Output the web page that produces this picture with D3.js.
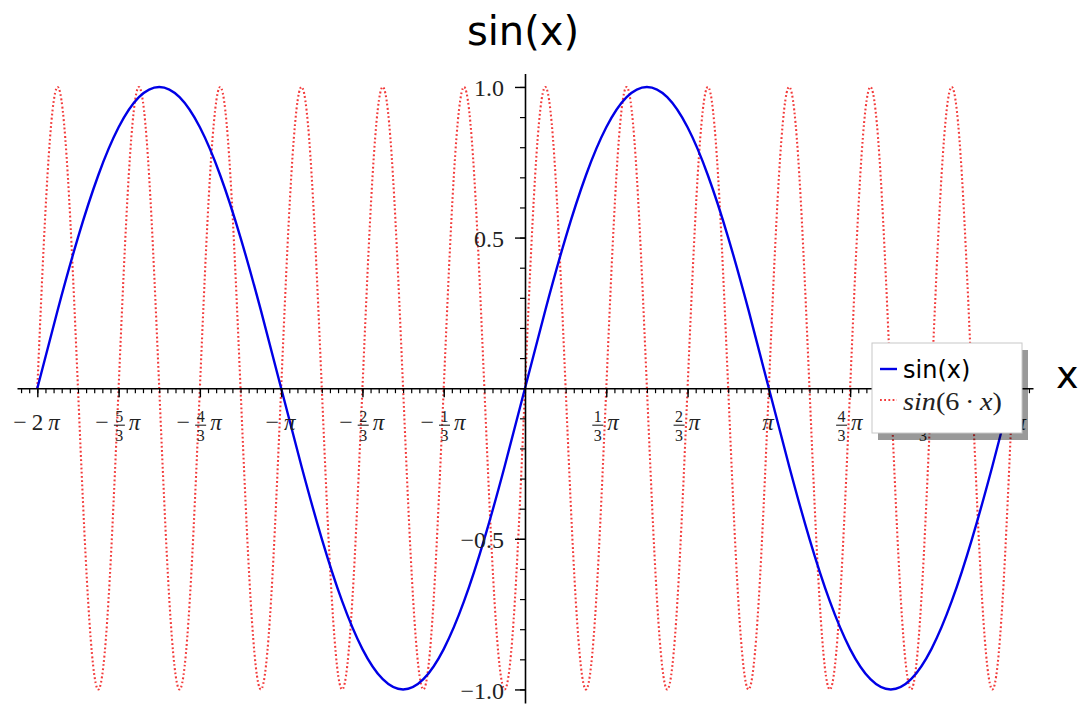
<!DOCTYPE html>
<html>
<head>
<meta charset="utf-8">
<title>sin(x)</title>
<script src="https://cdn.jsdelivr.net/npm/d3@7"></script>
<style>
	body { margin: 0; background: #fff; }
	svg { display: block; }
	.serif { font-family: "Liberation Serif", "DejaVu Serif", serif; }
	.sans { font-family: "DejaVu Sans", sans-serif; }
	.tick line { stroke: #000; }
</style>
</head>
<body>
<svg width="1083" height="704"></svg>
<script>
	// samples, x goes from -2π to 2π in equal steps
	var xStart = -2 * Math.PI;
	var sinStep = Math.PI / 12;
	var sinValues = [
		0, 0.259, 0.5, 0.707, 0.866, 0.966, 1, 0.966, 0.866, 0.707, 0.5, 0.259,
		0, -0.259, -0.5, -0.707, -0.866, -0.966, -1, -0.966, -0.866, -0.707, -0.5, -0.259,
		0, 0.259, 0.5, 0.707, 0.866, 0.966, 1, 0.966, 0.866, 0.707, 0.5, 0.259,
		0, -0.259, -0.5, -0.707, -0.866, -0.966, -1, -0.966, -0.866, -0.707, -0.5, -0.259,
		0
	];
	var sin6Step = Math.PI / 24;
	var sin6Values = [
		0, 0.707, 1, 0.707, 0, -0.707, -1, -0.707,
		0, 0.707, 1, 0.707, 0, -0.707, -1, -0.707,
		0, 0.707, 1, 0.707, 0, -0.707, -1, -0.707,
		0, 0.707, 1, 0.707, 0, -0.707, -1, -0.707,
		0, 0.707, 1, 0.707, 0, -0.707, -1, -0.707,
		0, 0.707, 1, 0.707, 0, -0.707, -1, -0.707,
		0, 0.707, 1, 0.707, 0, -0.707, -1, -0.707,
		0, 0.707, 1, 0.707, 0, -0.707, -1, -0.707,
		0, 0.707, 1, 0.707, 0, -0.707, -1, -0.707,
		0, 0.707, 1, 0.707, 0, -0.707, -1, -0.707,
		0, 0.707, 1, 0.707, 0, -0.707, -1, -0.707,
		0, 0.707, 1, 0.707, 0, -0.707, -1, -0.707,
		0
	];

	// x ticks in units of π/3
	var xMajorTicks = [-6, -5, -4, -3, -2, -1, 1, 2, 3, 4, 5, 6];
	var xTickLabels = ["-2π", "-5/3π", "-4/3π", "-π", "-2/3π", "-1/3π", "1/3π", "2/3π", "π", "4/3π", "5/3π", "2π"];
	var yMajorTicks = [-1, -0.5, 0.5, 1];
	var yTickLabels = ["−1.0", "−0.5", "0.5", "1.0"];
	var legendLabels = ["sin(x)", "sin(6·x)"];
	var titleText = "sin(x)";
	var xAxisLabel = "x";

	var svg = d3.select("svg");

	var x = d3.scaleLinear().domain([-6.545, 6.545]).range([17, 1033]);
	var y = d3.scaleLinear().domain([-1.045, 1.045]).range([703, 73.4]);

	var curves = svg.append("g");

	var sinLine = d3.line()
		.x(function(d, i) { return x(xStart + i * sinStep); })
		.y(function(d) { return y(d); })
		.curve(d3.curveNatural);

	var sin6Line = d3.line()
		.x(function(d, i) { return x(xStart + i * sin6Step); })
		.y(function(d) { return y(d); })
		.curve(d3.curveNatural);

	curves.append("path")
		.datum(sin6Values)
		.attr("d", sin6Line)
		.attr("fill", "none")
		.attr("stroke", "#f01818")
		.attr("stroke-opacity", 0.85)
		.attr("stroke-width", 2.1)
		.attr("stroke-dasharray", "1.8,2.4");

	curves.append("path")
		.datum(sinValues)
		.attr("d", sinLine)
		.attr("fill", "none")
		.attr("stroke", "#0000e6")
		.attr("stroke-width", 2.4);

	// axes cross at the origin
	var xMinor = d3.range(-62, 63).map(function(k) { return k * Math.PI / 30; });
	var yMinor = d3.range(-10, 11).map(function(k) { return k / 10; });

	var xAxisG = svg.append("g").attr("transform", "translate(0," + y(0) + ")");
	xAxisG.append("g")
		.call(d3.axisBottom(x).tickValues(xMinor).tickSize(5).tickSizeOuter(0).tickFormat(""))
		.call(function(g) {
			g.select(".domain").attr("stroke-width", 1.6);
			g.selectAll(".tick line").attr("stroke-width", 1.2);
		});
	xAxisG.append("g")
		.call(d3.axisBottom(x).tickValues(xMajorTicks.map(function(k) { return k * Math.PI / 3; }))
			.tickSize(9).tickSizeOuter(0).tickFormat(""))
		.call(function(g) {
			g.select(".domain").remove();
			g.selectAll(".tick line").attr("stroke-width", 1.4);
		});

	var yAxisG = svg.append("g").attr("transform", "translate(" + x(0) + ",0)");
	yAxisG.append("g")
		.call(d3.axisLeft(y).tickValues(yMinor).tickSize(5).tickSizeOuter(0).tickFormat(""))
		.call(function(g) {
			g.select(".domain").attr("stroke-width", 1.6);
			g.selectAll(".tick line").attr("stroke-width", 1.2);
		});
	yAxisG.append("g")
		.call(d3.axisLeft(y).tickValues(yMajorTicks).tickSize(10).tickSizeOuter(0)
			.tickFormat(function(d, i) { return yTickLabels[i]; }))
		.call(function(g) {
			g.select(".domain").remove();
			g.selectAll(".tick line").attr("stroke-width", 1.4);
			g.selectAll("text")
				.attr("x", -21)
				.attr("dy", "0.36em")
				.attr("fill", "#222")
				.style("font-size", "24px")
				.style("font-family", "'Liberation Serif', serif");
		});

	// x tick labels like −5/3 π, drawn piece by piece
	var labelBase = y(0) + 42;
	xMajorTicks.forEach(function(k, i) {
		var g = svg.append("g").attr("class", "serif").attr("fill", "#222");
		drawPiLabel(g, xTickLabels[i]);
		var w = g.node().getBBox().width;
		g.attr("transform", "translate(" + (x(k * Math.PI / 3) - w / 2) + "," + labelBase + ")");
	});

	function drawPiLabel(g, label) {
		var m = label.match(/^(-?)(?:(\d+)\/(\d+)|(\d*))π$/);
		var cx = 0, t;
		if (m[1]) {
			t = g.append("text").attr("x", cx).style("font-size", "24px").text("−");
			cx += t.node().getComputedTextLength() + 5;
		}
		if (m[2]) {
			var num = g.append("text").style("font-size", "16px").attr("text-anchor", "middle").text(m[2]);
			var den = g.append("text").style("font-size", "16px").attr("text-anchor", "middle").text(m[3]);
			var fw = Math.max(num.node().getComputedTextLength(), den.node().getComputedTextLength()) + 3;
			num.attr("x", cx + fw / 2).attr("y", -8);
			den.attr("x", cx + fw / 2).attr("y", 11);
			g.append("line").attr("x1", cx).attr("x2", cx + fw).attr("y1", -5).attr("y2", -5)
				.attr("stroke", "#222").attr("stroke-width", 1.1);
			cx += fw + 4;
		} else if (m[4]) {
			t = g.append("text").attr("x", cx).style("font-size", "23px").text(m[4]);
			cx += t.node().getComputedTextLength() + 5;
		}
		g.append("text").attr("x", cx).style("font-size", "23px").style("font-style", "italic").text("π");
	}

	// title and axis label
	svg.append("text")
		.attr("class", "sans")
		.attr("x", x(0) - 2)
		.attr("y", 45)
		.attr("text-anchor", "middle")
		.style("font-size", "40px")
		.text(titleText);

	svg.append("text")
		.attr("class", "sans")
		.attr("x", 1056)
		.attr("y", y(0))
		.style("font-size", "38px")
		.text(xAxisLabel);

	// legend with drop shadow
	var legend = svg.append("g").attr("transform", "translate(872,343)");
	legend.append("rect")
		.attr("x", 6).attr("y", 7).attr("width", 150).attr("height", 90)
		.attr("fill", "#000").attr("fill-opacity", 0.4);
	legend.append("rect")
		.attr("width", 150).attr("height", 90)
		.attr("fill", "#fff").attr("stroke", "#c8c8c8").attr("stroke-width", 1);

	legend.append("line")
		.attr("x1", 8).attr("x2", 25).attr("y1", 26).attr("y2", 26)
		.attr("stroke", "#0000e6").attr("stroke-width", 2.4);
	legend.append("text")
		.attr("class", "sans")
		.attr("x", 31).attr("y", 35)
		.style("font-size", "24px")
		.text(legendLabels[0]);

	legend.append("line")
		.attr("x1", 8).attr("x2", 25).attr("y1", 57).attr("y2", 57)
		.attr("stroke", "#f01818").attr("stroke-opacity", 0.85)
		.attr("stroke-width", 2.1).attr("stroke-dasharray", "1.8,2.4");

	// second entry keeps the math look: italic names, upright digits
	var parts = legendLabels[1].match(/^(\w+)\((\d)·(\w)\)$/);
	var t2 = legend.append("text")
		.attr("class", "serif")
		.attr("x", 31).attr("y", 67)
		.attr("textLength", 99)
		.attr("lengthAdjust", "spacingAndGlyphs")
		.attr("fill", "#222")
		.style("font-size", "25px");
	t2.append("tspan").style("font-style", "italic").text(parts[1]);
	t2.append("tspan").text("(" + parts[2] + "\u2009·\u2009");
	t2.append("tspan").style("font-style", "italic").text(parts[3]);
	t2.append("tspan").text(")");
</script>
</body>
</html>
